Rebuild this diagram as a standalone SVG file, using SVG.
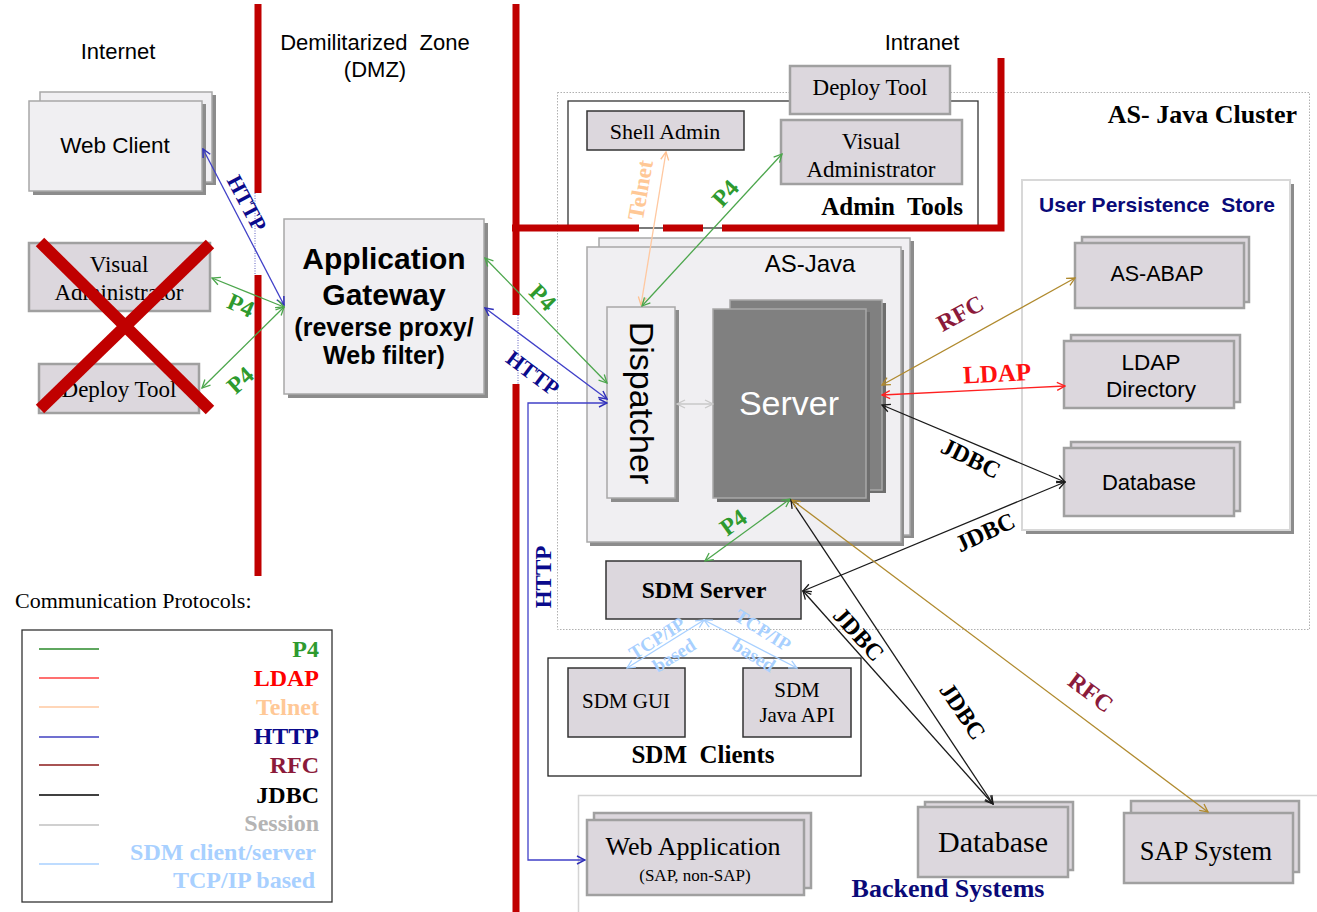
<svg xmlns="http://www.w3.org/2000/svg" width="1317" height="912" viewBox="0 0 1317 912">
<style>
.sans{font-family:"Liberation Sans",Arial,sans-serif;}
.serif{font-family:"Liberation Serif","Times New Roman",serif;}
.b{font-weight:bold;}
.lt{fill:#f0eff2;stroke:#a8a8a8;stroke-width:1.5;}
.gp{fill:#dcd7dd;stroke:#a0a0a0;stroke-width:2.5;}
.gd{fill:#dcd7dd;stroke:#333;stroke-width:1.5;}
.sh{fill:#8c8c8c;}
.fw{stroke:#c00000;stroke-width:7;fill:none;}
.c{fill:none;stroke-width:1.3;}
.p4{stroke:#4ca64c;}
.http{stroke:#4040c8;}
.tel{stroke:#ffc8a0;}
.rfc{stroke:#b08a2e;}
.ldap{stroke:#ff2020;}
.jdbc{stroke:#1a1a1a;}
.ses{stroke:#c8c8c8;}
.sdm{stroke:#a8d0ff;}
.lbl{font-family:"Liberation Serif","Times New Roman",serif;font-weight:bold;text-anchor:middle;}
.pre{white-space:pre;}
</style>
<defs>
<marker id="mg" viewBox="0 0 10 10" refX="9" refY="5" markerWidth="10" markerHeight="10" markerUnits="userSpaceOnUse" orient="auto-start-reverse"><path d="M1,1 L9,5 L1,9" fill="none" stroke="#4ca64c" stroke-width="1.3"/></marker>
<marker id="mb" viewBox="0 0 10 10" refX="9" refY="5" markerWidth="10" markerHeight="10" markerUnits="userSpaceOnUse" orient="auto-start-reverse"><path d="M1,1 L9,5 L1,9" fill="none" stroke="#3030b8" stroke-width="1.5"/></marker>
<marker id="mt" viewBox="0 0 10 10" refX="9" refY="5" markerWidth="10" markerHeight="10" markerUnits="userSpaceOnUse" orient="auto-start-reverse"><path d="M1,1 L9,5 L1,9" fill="none" stroke="#ffc090" stroke-width="1.3"/></marker>
<marker id="mr" viewBox="0 0 10 10" refX="9" refY="5" markerWidth="10" markerHeight="10" markerUnits="userSpaceOnUse" orient="auto-start-reverse"><path d="M1,1 L9,5 L1,9" fill="none" stroke="#b08a2e" stroke-width="1.3"/></marker>
<marker id="ml" viewBox="0 0 10 10" refX="9" refY="5" markerWidth="10" markerHeight="10" markerUnits="userSpaceOnUse" orient="auto-start-reverse"><path d="M1,1 L9,5 L1,9" fill="none" stroke="#ff2020" stroke-width="1.3"/></marker>
<marker id="mk" viewBox="0 0 10 10" refX="9" refY="5" markerWidth="10" markerHeight="10" markerUnits="userSpaceOnUse" orient="auto-start-reverse"><path d="M1,1 L9,5 L1,9" fill="none" stroke="#1a1a1a" stroke-width="1.3"/></marker>
<marker id="ms" viewBox="0 0 10 10" refX="9" refY="5" markerWidth="10" markerHeight="10" markerUnits="userSpaceOnUse" orient="auto-start-reverse"><path d="M1,1 L9,5 L1,9" fill="none" stroke="#c8c8c8" stroke-width="1.3"/></marker>
<marker id="md" viewBox="0 0 10 10" refX="9" refY="5" markerWidth="10" markerHeight="10" markerUnits="userSpaceOnUse" orient="auto-start-reverse"><path d="M1,1 L9,5 L1,9" fill="none" stroke="#a8d0ff" stroke-width="1.3"/></marker>
</defs>
<rect width="1317" height="912" fill="#fff"/>

<g id="zones">
<text class="sans" x="118" y="59" font-size="22" text-anchor="middle">Internet</text>
<text class="sans pre" x="375" y="50" font-size="22" text-anchor="middle">Demilitarized  Zone</text>
<text class="sans" x="375" y="77" font-size="22" text-anchor="middle">(DMZ)</text>
<text class="sans" x="922" y="50" font-size="22" text-anchor="middle">Intranet</text>
</g>

<g id="cluster">
<rect x="557.5" y="92.5" width="752" height="537" fill="none" stroke="#b0b0b0" stroke-width="1" stroke-dasharray="1.5,1.5"/>
<text class="serif b" x="1297" y="123" font-size="26" text-anchor="end">AS- Java Cluster</text>
</g>

<g id="backend">
<path d="M1317,795.5 H578.5 V912" fill="none" stroke="#d4d4d4" stroke-width="1.5"/>
<text class="serif b" x="948" y="897" font-size="26" fill="#0a0a78" text-anchor="middle">Backend Systems</text>
</g>

<g id="admin-tools">
<rect x="568" y="101" width="410" height="127" fill="#fff" stroke="#333" stroke-width="1.3"/>
<text class="serif b pre" x="963" y="215" font-size="25" text-anchor="end">Admin  Tools</text>
</g>

<g id="firewalls">
<line class="fw" x1="258" y1="4" x2="258" y2="193"/>
<line class="fw" x1="258" y1="275" x2="258" y2="576"/>
<line x1="255" y1="193" x2="255" y2="275" stroke="#6060c0" stroke-width="1" stroke-dasharray="1,1.5"/>
<line class="fw" x1="516" y1="4" x2="516" y2="315"/>
<line class="fw" x1="516" y1="384" x2="516" y2="912"/>
<line x1="518" y1="315" x2="518" y2="384" stroke="#6060c0" stroke-width="1" stroke-dasharray="1,1.5"/>
<path class="fw" d="M512,228 H639 M663,228 H703 M722,228 H1001 V58"/>
</g>

<g id="web-client">
<rect class="sh" x="44" y="95" width="172" height="90"/>
<rect class="lt" x="40" y="92" width="172" height="90"/>
<rect class="sh" x="33" y="104" width="173" height="91"/>
<rect class="lt" x="29" y="101" width="173" height="90"/>
<text class="sans" x="115" y="153" font-size="22.5" text-anchor="middle">Web Client</text>
</g>

<g id="visual-admin-internet">
<rect class="gp" x="29" y="243" width="181" height="68"/>
<text class="serif" x="119" y="272" font-size="23" text-anchor="middle">Visual</text>
<text class="serif" x="119" y="300" font-size="23" text-anchor="middle">Administrator</text>
</g>

<g id="deploy-tool-internet">
<rect class="gp" x="39" y="364" width="160" height="49"/>
<text class="serif" x="119" y="397" font-size="23" text-anchor="middle">Deploy Tool</text>
</g>

<g id="cross">
<line x1="40" y1="242" x2="210" y2="410" stroke="#c00000" stroke-width="12"/>
<line x1="210" y1="244" x2="40" y2="409" stroke="#c00000" stroke-width="12"/>
</g>

<g id="app-gateway">
<rect class="sh" x="288" y="223" width="200" height="175"/>
<rect class="lt" x="284" y="219" width="200" height="175"/>
<text class="sans b" x="384" y="269" font-size="30" text-anchor="middle">Application</text>
<text class="sans b" x="384" y="305" font-size="30" text-anchor="middle">Gateway</text>
<text class="sans b" x="384" y="336" font-size="25" text-anchor="middle">(reverse proxy/</text>
<text class="sans b" x="384" y="364" font-size="25" text-anchor="middle">Web filter)</text>
</g>

<g id="deploy-tool">
<rect class="gp" x="790" y="66" width="160" height="48"/>
<text class="serif" x="870" y="95" font-size="23" text-anchor="middle">Deploy Tool</text>
</g>

<g id="shell-admin">
<rect class="gd" x="587" y="111" width="157" height="39"/>
<text class="serif" x="665" y="139" font-size="22" text-anchor="middle">Shell Admin</text>
</g>

<g id="visual-admin">
<rect class="gp" x="781" y="120" width="181" height="64"/>
<text class="serif" x="871" y="149" font-size="23" text-anchor="middle">Visual</text>
<text class="serif" x="871" y="177" font-size="23" text-anchor="middle">Administrator</text>
</g>

<g id="as-java">
<rect class="sh" x="602" y="241" width="312" height="297"/>
<rect class="lt" x="599" y="238" width="311" height="297"/>
<rect class="sh" x="590" y="250" width="314" height="296"/>
<rect class="lt" x="587" y="247" width="314" height="295"/>
<text class="sans" x="810" y="272" font-size="24" text-anchor="middle">AS-Java</text>
</g>

<g id="dispatcher">
<rect class="sh" x="611" y="310" width="68" height="192"/>
<rect class="lt" x="607" y="307" width="68" height="191"/>
<text class="sans" font-size="34" text-anchor="middle" transform="translate(642,403) rotate(90)" dy="0.35em">Dispatcher</text>
</g>

<g id="server">
<rect x="734" y="303" width="152" height="190" fill="#6e6e6e"/>
<rect x="730" y="300" width="152" height="190" fill="#808080" stroke="#a8a8a8" stroke-width="1.5"/>
<rect x="717" y="312" width="153" height="190" fill="#6e6e6e"/>
<rect x="713" y="309" width="153" height="189" fill="#808080" stroke="#a8a8a8" stroke-width="1.5"/>
<text class="sans" x="789" y="415" font-size="34" fill="#fff" text-anchor="middle">Server</text>
</g>

<g id="user-persistence-store">
<rect class="sh" x="1026" y="184" width="268" height="350"/>
<rect x="1022" y="180" width="268" height="350" fill="#fff" stroke="#d8d8d8" stroke-width="2"/>
<text class="sans b pre" x="1157" y="212" font-size="21" fill="#0a0a78" text-anchor="middle">User Persistence  Store</text>
</g>

<g id="as-abap">
<rect class="gp" x="1082" y="237" width="167" height="65"/>
<rect class="gp" x="1075" y="243" width="169" height="65"/>
<text class="sans" x="1157" y="281" font-size="21.5" text-anchor="middle">AS-ABAP</text>
</g>

<g id="ldap-directory">
<rect class="gp" x="1071" y="335" width="169" height="67"/>
<rect class="gp" x="1064" y="341" width="170" height="67"/>
<text class="sans" x="1151" y="370" font-size="22.5" text-anchor="middle">LDAP</text>
<text class="sans" x="1151" y="397" font-size="22.5" text-anchor="middle">Directory</text>
</g>

<g id="database-ups">
<rect class="gp" x="1071" y="442" width="169" height="69"/>
<rect class="gp" x="1064" y="448" width="170" height="68"/>
<text class="sans" x="1149" y="490" font-size="22" text-anchor="middle">Database</text>
</g>

<g id="sdm-server">
<rect class="gd" x="606" y="561" width="195" height="58"/>
<text class="serif b" x="704" y="598" font-size="23.5" text-anchor="middle">SDM Server</text>
</g>

<g id="sdm-clients">
<rect x="548" y="658" width="313" height="118" fill="#fff" stroke="#222" stroke-width="1.3"/>
<text class="serif b pre" x="703" y="763" font-size="25" text-anchor="middle">SDM  Clients</text>
</g>

<g id="sdm-gui">
<rect class="gd" x="568" y="668" width="117" height="69"/>
<text class="serif" x="626" y="708" font-size="21" text-anchor="middle">SDM GUI</text>
</g>

<g id="sdm-java-api">
<rect class="gd" x="743" y="668" width="108" height="69"/>
<text class="serif" x="797" y="697" font-size="21" text-anchor="middle">SDM</text>
<text class="serif" x="797" y="722" font-size="21" text-anchor="middle">Java API</text>
</g>

<g id="web-application">
<rect class="gp" x="594" y="813" width="217" height="75"/>
<rect class="gp" x="587" y="820" width="217" height="75"/>
<text class="serif" x="693" y="855" font-size="26" text-anchor="middle">Web Application</text>
<text class="serif" x="695" y="881" font-size="17" text-anchor="middle">(SAP, non-SAP)</text>
</g>

<g id="database-backend">
<rect class="gp" x="925" y="802" width="148" height="68"/>
<rect class="gp" x="918" y="807" width="150" height="70"/>
<text class="serif" x="993" y="852" font-size="30" text-anchor="middle">Database</text>
</g>

<g id="sap-system">
<rect class="gp" x="1131" y="801" width="168" height="71"/>
<rect class="gp" x="1124" y="813" width="169" height="70"/>
<text class="serif" x="1206" y="860" font-size="26.5" text-anchor="middle">SAP System</text>
</g>

<g id="connectors">
<line class="c http" x1="203" y1="149" x2="284" y2="305" marker-start="url(#mb)" marker-end="url(#mb)"/>
<line class="c p4" x1="212" y1="278" x2="284" y2="307" marker-start="url(#mg)" marker-end="url(#mg)"/>
<line class="c p4" x1="202" y1="388" x2="284" y2="307" marker-start="url(#mg)" marker-end="url(#mg)"/>
<line class="c p4" x1="485" y1="258" x2="607" y2="383" marker-start="url(#mg)" marker-end="url(#mg)"/>
<line class="c http" x1="485" y1="308" x2="607" y2="399" marker-start="url(#mb)" marker-end="url(#mb)"/>
<polyline class="c http" points="607,403 528,403 528,860 585,860" marker-start="url(#mb)" marker-end="url(#mb)"/>
<line class="c tel" x1="641" y1="305" x2="666" y2="152" marker-start="url(#mt)" marker-end="url(#mt)"/>
<line class="c p4" x1="642" y1="306" x2="782" y2="154" marker-start="url(#mg)" marker-end="url(#mg)"/>
<line class="c ses" x1="677" y1="404" x2="713" y2="404" marker-start="url(#ms)" marker-end="url(#ms)"/>
<line class="c rfc" x1="882" y1="385" x2="1075" y2="278" marker-start="url(#mr)" marker-end="url(#mr)"/>
<line class="c ldap" x1="882" y1="395" x2="1065" y2="386" marker-start="url(#ml)" marker-end="url(#ml)"/>
<line class="c jdbc" x1="882" y1="405" x2="1065" y2="482" marker-start="url(#mk)" marker-end="url(#mk)"/>
<line class="c jdbc" x1="803" y1="591" x2="1065" y2="482" marker-start="url(#mk)" marker-end="url(#mk)"/>
<line class="c p4" x1="790" y1="499" x2="705" y2="561" marker-start="url(#mg)" marker-end="url(#mg)"/>
<line class="c jdbc" x1="791" y1="500" x2="993" y2="804" marker-start="url(#mk)" marker-end="url(#mk)"/>
<line class="c rfc" x1="792" y1="500" x2="1208" y2="812" marker-start="url(#mr)" marker-end="url(#mr)"/>
<line class="c jdbc" x1="803" y1="591" x2="993" y2="804" marker-start="url(#mk)" marker-end="url(#mk)"/>
<line class="c sdm" x1="704" y1="620" x2="627" y2="668" marker-start="url(#md)" marker-end="url(#md)"/>
<line class="c sdm" x1="704" y1="620" x2="797" y2="668" marker-start="url(#md)" marker-end="url(#md)"/>

<text class="lbl" font-size="22" fill="#0a0a8c" transform="translate(247,203) rotate(62)" dy="0.35em">HTTP</text>
<text class="lbl" font-size="24" fill="#2e9a2e" transform="translate(241,305) rotate(24)" dy="0.35em">P4</text>
<text class="lbl" font-size="24" fill="#2e9a2e" transform="translate(240,380) rotate(-42)" dy="0.35em">P4</text>
<text class="lbl" font-size="24" fill="#2e9a2e" transform="translate(543,297) rotate(45)" dy="0.35em">P4</text>
<text class="lbl" font-size="22" fill="#0a0a8c" transform="translate(533,373) rotate(37)" dy="0.35em">HTTP</text>
<text class="lbl" font-size="23" fill="#0a0a8c" transform="translate(543,577) rotate(-90)" dy="0.35em">HTTP</text>
<text class="lbl" font-size="23" fill="#ffc896" transform="translate(640,190) rotate(-80)" dy="0.35em">Telnet</text>
<text class="lbl" font-size="24" fill="#2e9a2e" transform="translate(725,193) rotate(-48)" dy="0.35em">P4</text>
<text class="lbl" font-size="24" fill="#8b1a3a" transform="translate(960,313) rotate(-29)" dy="0.35em">RFC</text>
<text class="lbl" font-size="25" fill="#ff1010" transform="translate(997,373) rotate(-3)" dy="0.35em">LDAP</text>
<text class="lbl" font-size="24" fill="#000" transform="translate(971,458) rotate(26)" dy="0.35em">JDBC</text>
<text class="lbl" font-size="24" fill="#000" transform="translate(985,532) rotate(-25)" dy="0.35em">JDBC</text>
<text class="lbl" font-size="24" fill="#2e9a2e" transform="translate(733,522) rotate(-36)" dy="0.35em">P4</text>
<text class="lbl" font-size="24" fill="#000" transform="translate(859,634) rotate(48)" dy="0.35em">JDBC</text>
<text class="lbl" font-size="24" fill="#000" transform="translate(963,711) rotate(56)" dy="0.35em">JDBC</text>
<text class="lbl" font-size="24" fill="#8b1a3a" transform="translate(1091,692) rotate(37)" dy="0.35em">RFC</text>
<text class="lbl" font-size="19" fill="#a8d0ff" transform="translate(657,638) rotate(-32)" dy="0.35em">TCP/IP</text>
<text class="lbl" font-size="19" fill="#a8d0ff" transform="translate(674,655) rotate(-32)" dy="0.35em">based</text>
<text class="lbl" font-size="19" fill="#a8d0ff" transform="translate(763,630) rotate(32)" dy="0.35em">TCP/IP</text>
<text class="lbl" font-size="19" fill="#a8d0ff" transform="translate(754,655) rotate(32)" dy="0.35em">based</text>
</g>

<g id="legend">
<text class="serif" x="15" y="608" font-size="22">Communication Protocols:</text>
<rect x="22" y="630" width="310" height="272" fill="#fff" stroke="#333" stroke-width="1.3"/>
<line x1="39" y1="649" x2="99" y2="649" stroke="#2a8a2a" stroke-width="1.3"/>
<line x1="39" y1="678" x2="99" y2="678" stroke="#ff4040" stroke-width="1.3"/>
<line x1="39" y1="707" x2="99" y2="707" stroke="#ffc8a0" stroke-width="1.3"/>
<line x1="39" y1="737" x2="99" y2="737" stroke="#4040c0" stroke-width="1.3"/>
<line x1="39" y1="765" x2="99" y2="765" stroke="#8b1a1a" stroke-width="1.3"/>
<line x1="39" y1="795" x2="99" y2="795" stroke="#000" stroke-width="1.3"/>
<line x1="39" y1="825" x2="99" y2="825" stroke="#c0c0c0" stroke-width="1.3"/>
<line x1="39" y1="864" x2="99" y2="864" stroke="#a8d0ff" stroke-width="1.3"/>
<text class="serif b" x="319" y="657" font-size="24" fill="#2e9a2e" text-anchor="end">P4</text>
<text class="serif b" x="319" y="686" font-size="24" fill="#ff0000" text-anchor="end">LDAP</text>
<text class="serif b" x="319" y="715" font-size="24" fill="#ffc896" text-anchor="end">Telnet</text>
<text class="serif b" x="319" y="744" font-size="24" fill="#0a0a8c" text-anchor="end">HTTP</text>
<text class="serif b" x="319" y="773" font-size="24" fill="#8b1a3a" text-anchor="end">RFC</text>
<text class="serif b" x="319" y="803" font-size="24" fill="#000" text-anchor="end">JDBC</text>
<text class="serif b" x="319" y="831" font-size="24" fill="#b4b4b4" text-anchor="end">Session</text>
<text class="serif b" x="316" y="860" font-size="24" fill="#a8d0ff" text-anchor="end">SDM client/server</text>
<text class="serif b" x="315" y="888" font-size="24" fill="#a8d0ff" text-anchor="end">TCP/IP based</text>
</g>
</svg>
